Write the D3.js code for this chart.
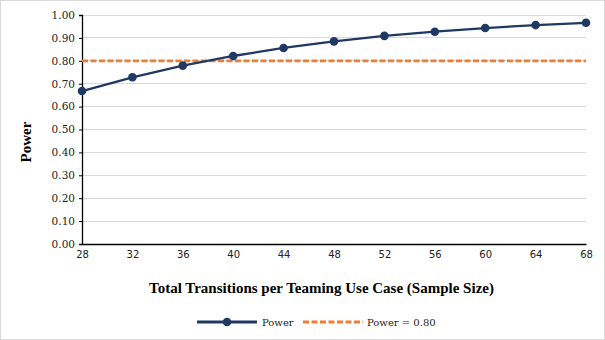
<!DOCTYPE html>
<html><head><meta charset="utf-8">
<script src="https://cdn.jsdelivr.net/npm/d3@7"></script>
<style>body{margin:0;background:#fff}svg{display:block}</style>
</head><body>
<svg id="c" width="605" height="340"></svg>
<script>
const sampleSizes = [28, 32, 36, 40, 44, 48, 52, 56, 60, 64, 68];
const powerValues = [0.668, 0.728, 0.779, 0.821, 0.856, 0.885, 0.909, 0.927, 0.943, 0.956, 0.966];
const thresholdValue = 0.80;
const yTicks = [0, 0.1, 0.2, 0.3, 0.4, 0.5, 0.6, 0.7, 0.8, 0.9, 1.0];
const seriesNames = ["Power", "Power = 0.80"];
const xTitle = "Total Transitions per Teaming Use Case (Sample Size)";
const yTitle = "Power";

const svg = d3.select("#c");
const navy = "#1f3864", orange = "#ed7d31";
svg.append("rect").attr("x",0.5).attr("y",0.5).attr("width",604).attr("height",339)
  .attr("fill","#fff").attr("stroke","#d9d9d9");

const x = d3.scaleLinear().domain([28,68]).range([82,586]);
const y = d3.scaleLinear().domain([0,1]).range([244,15]);

// gridlines
svg.append("g").selectAll("line").data(yTicks.slice(1)).join("line")
  .attr("x1",82).attr("x2",586).attr("y1",d=>y(d)).attr("y2",d=>y(d))
  .attr("stroke","#d9d9d9").attr("stroke-width",1).attr("shape-rendering","crispEdges");

// y axis
const ya = svg.append("g").attr("transform","translate(82,0)")
  .call(d3.axisLeft(y).tickValues(yTicks).tickFormat(d3.format(".2f")).tickSize(3).tickPadding(4));
ya.select(".domain").attr("stroke","#000").attr("stroke-width",1.3);
ya.selectAll(".tick line").attr("stroke","#000");
ya.selectAll("text").attr("font-family","DejaVu Serif").attr("font-size",10.5).attr("fill","#222");

// x axis
const xa = svg.append("g").attr("transform","translate(0,244)")
  .call(d3.axisBottom(x).tickValues(sampleSizes).tickSize(0).tickPadding(7));
xa.select(".domain").attr("stroke","#000").attr("stroke-width",1.3);
xa.selectAll("text").attr("font-family","DejaVu Sans").attr("font-size",10).attr("fill","#222");

// threshold line
svg.append("line").attr("x1",x(28)).attr("x2",x(68)).attr("y1",y(thresholdValue)).attr("y2",y(thresholdValue))
  .attr("stroke",orange).attr("stroke-width",2.8).attr("stroke-dasharray","6,2.5");

// power line
const pts = sampleSizes.map((s,i)=>[s,powerValues[i]]);
svg.append("path").datum(pts)
  .attr("d",d3.line().x(d=>x(d[0])).y(d=>y(d[1])))
  .attr("fill","none").attr("stroke",navy).attr("stroke-width",2.3);
svg.append("g").selectAll("circle").data(pts).join("circle")
  .attr("cx",d=>x(d[0])).attr("cy",d=>y(d[1])).attr("r",4.3).attr("fill",navy);

// titles
svg.append("text").attr("x",321.5).attr("y",293).attr("text-anchor","middle")
  .attr("font-family","Liberation Serif").attr("font-weight","bold").attr("font-size",15).attr("fill","#000")
  .text(xTitle);
svg.append("text").attr("transform","translate(31,142) rotate(-90)").attr("text-anchor","middle")
  .attr("font-family","Liberation Serif").attr("font-weight","bold").attr("font-size",15).attr("fill","#000")
  .text(yTitle);

// legend
const lg = svg.append("g");
lg.append("line").attr("x1",197).attr("x2",257).attr("y1",322).attr("y2",322).attr("stroke",navy).attr("stroke-width",2.8);
lg.append("circle").attr("cx",227).attr("cy",322).attr("r",4.3).attr("fill",navy);
lg.append("text").attr("x",262).attr("y",326).attr("font-family","DejaVu Serif").attr("font-size",10).attr("fill","#222").text(seriesNames[0]);
lg.append("line").attr("x1",303).attr("x2",363).attr("y1",322).attr("y2",322).attr("stroke",orange).attr("stroke-width",2.8).attr("stroke-dasharray","6,2.5");
lg.append("text").attr("x",367).attr("y",326).attr("font-family","DejaVu Serif").attr("font-size",10).attr("fill","#222").text(seriesNames[1]);
</script>
</body></html>
